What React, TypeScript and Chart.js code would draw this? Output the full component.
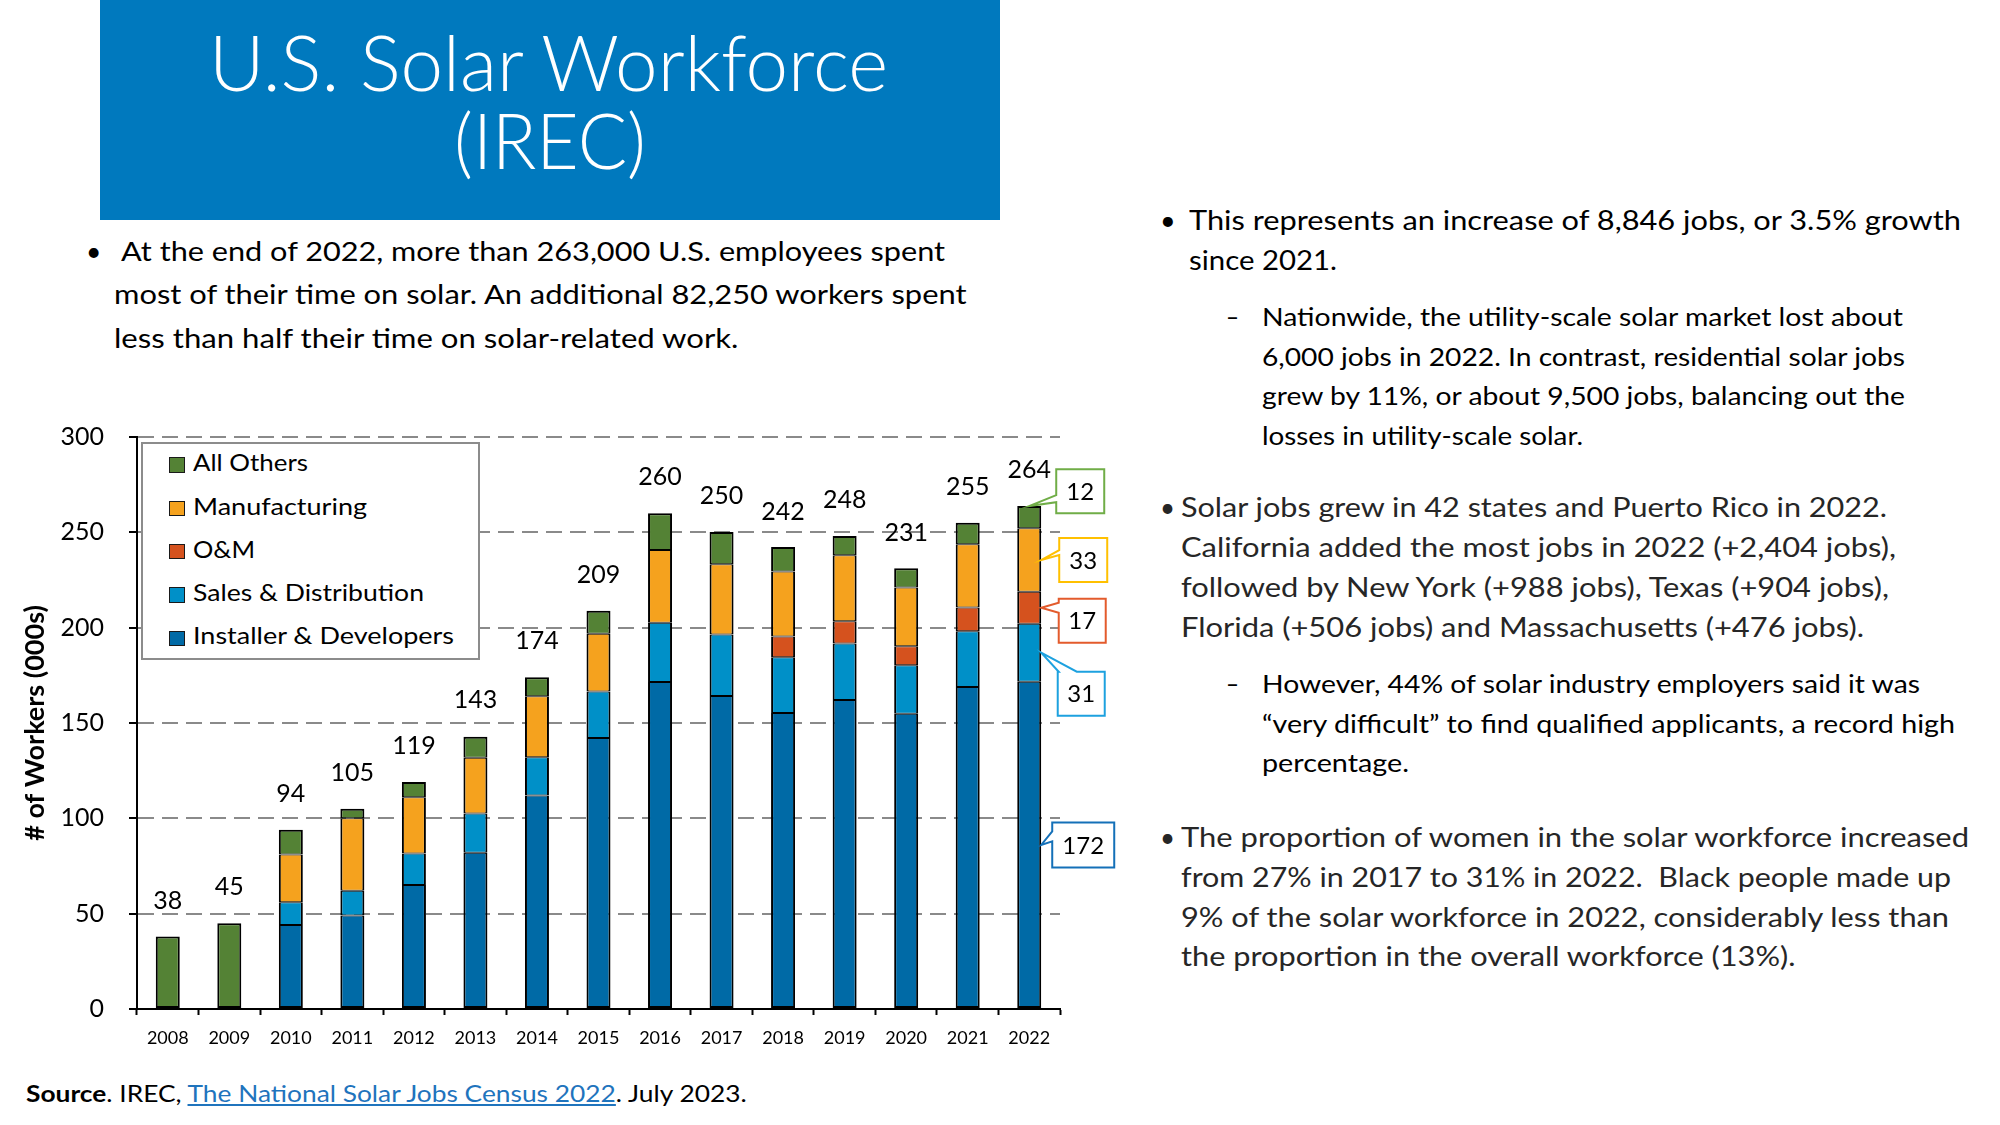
import React, { useEffect, useLayoutEffect, useRef } from "react";
import { Chart, registerables } from "chart.js";

Chart.register(...registerables);

// ---------------- data ----------------
const years = ["2008", "2009", "2010", "2011", "2012", "2013", "2014", "2015", "2016", "2017", "2018", "2019", "2020", "2021", "2022"];
const installerDevelopers = [null, null, 44, 49, 65, 82, 112, 142.1, 171.5, 164.1, 155.2, 162.1, 154.8, 168.9, 171.6];
const salesDistribution = [null, null, 12, 13, 16.5, 20.5, 20, 24.4, 31.1, 32.3, 29.3, 29.6, 25.5, 29.2, 30.5];
const operationsMaintenance = [null, null, null, null, null, null, null, null, null, null, 10.9, 11.6, 9.9, 12.5, 16.7];
const manufacturing = [null, null, 25, 38, 29.5, 29.3, 32, 30.3, 38.1, 36.9, 34.1, 34.7, 30.9, 33.1, 33.3];
const allOthers = [38, 45, 13, 5, 8, 11, 10, 12.1, 19.3, 16.9, 12.8, 10.1, 10.0, 11.3, 11.7];
const totals = [38, 45, 94, 105, 119, 143, 174, 209, 260, 250, 242, 248, 231, 255, 264];
const yTickValues = [0, 50, 100, 150, 200, 250, 300];
const seriesNames = ["Installer & Developers", "Sales & Distribution", "O&M", "Manufacturing", "All Others"];

// ---------------- styles ----------------
const seriesColors = ["#006AA6", "#0090C8", "#D5521E", "#F5A21E", "#548235"];
const seriesData = [installerDevelopers, salesDistribution, operationsMaintenance, manufacturing, allOthers];
const legendOrder = [4, 3, 2, 1, 0];
const legendWidths = [115, 174, 62, 231, 261];
const calloutStyles = [
  { color: "#1470B8", dx: 42, dy: 0, w: 62, h: 45, tip: "right", side: "left", a: 9, b: 19 },
  { color: "#1DA1DF", dx: 40, dy: 41, w: 47, h: 44, tip: "right", side: "top", a: 1, b: 19 },
  { color: "#E35B2C", dx: 41, dy: 13, w: 47, h: 44, tip: "right", side: "left", a: 4, b: 14 },
  { color: "#FFC000", dx: 42, dy: 0, w: 48, h: 44, tip: "right", side: "left", a: 12, b: 17 },
  { color: "#70AD47", dx: 39, dy: -26, w: 48, h: 44, tip: "top", side: "left", a: 26, b: 33 },
];

function edgeWidths(i: number, d: number) {
  const above = seriesData.slice(d + 1).some((s) => s[i] != null);
  const below = seriesData.slice(0, d).some((s) => s[i] != null);
  return { left: 2, right: 2, top: above ? 1 : 2, bottom: below ? 1 : 2 };
}

const totalsPlugin = {
  id: "totalsLabels",
  afterDatasetsDraw(chart: any) {
    const { ctx, scales } = chart;
    ctx.save();
    ctx.font = "25px Lato";
    ctx.fillStyle = "#000";
    ctx.textAlign = "center";
    ctx.textBaseline = "middle";
    totals.forEach((t, i) => {
      ctx.fillText(String(t), scales.x.getPixelForValue(i), scales.y.getPixelForValue(t) - 36);
    });
    ctx.restore();
  },
};

const calloutPlugin = {
  id: "callouts",
  afterDatasetsDraw(chart: any) {
    const ctx = chart.ctx;
    const last = years.length - 1;
    ctx.save();
    chart.data.datasets.forEach((ds: any, d: number) => {
      const v = ds.data[last];
      if (v == null) return;
      const bar = chart.getDatasetMeta(d).data[last];
      const { x, y, base, width } = bar.getProps(["x", "y", "base", "width"], true);
      const right = x + width / 2;
      const top = Math.min(y, base);
      const bottom = Math.max(y, base);
      const mid = (top + bottom) / 2;
      const s = calloutStyles[d];
      const cx = right + s.dx;
      const cy = mid + s.dy;
      const L = cx - s.w / 2, R = cx + s.w / 2, T = cy - s.h / 2, B = cy + s.h / 2;
      const tx = s.tip === "top" ? x : right;
      const ty = s.tip === "top" ? top : mid;
      ctx.beginPath();
      if (s.side === "left") {
        ctx.moveTo(L, T);
        ctx.lineTo(R, T);
        ctx.lineTo(R, B);
        ctx.lineTo(L, B);
        ctx.lineTo(L, T + s.b);
        ctx.lineTo(tx, ty);
        ctx.lineTo(L, T + s.a);
      } else {
        ctx.moveTo(L, T);
        ctx.lineTo(L + s.a, T);
        ctx.lineTo(tx, ty);
        ctx.lineTo(L + s.b, T);
        ctx.lineTo(R, T);
        ctx.lineTo(R, B);
        ctx.lineTo(L, B);
      }
      ctx.closePath();
      ctx.fillStyle = "#fff";
      ctx.fill();
      ctx.lineWidth = 2;
      ctx.lineJoin = "miter";
      ctx.strokeStyle = s.color;
      ctx.stroke();
      ctx.fillStyle = "#000";
      ctx.font = "24px Lato";
      ctx.textAlign = "center";
      ctx.textBaseline = "middle";
      ctx.fillText(String(Math.round(v)), cx, cy + 1);
    });
    ctx.restore();
  },
};

type LineProps = {
  x: number;
  base: number;
  fs: number;
  w?: number;
  color?: string;
  weight?: number;
  children: React.ReactNode;
};

function Line({ x, base, fs, w, color = "#000", weight = 400, children }: LineProps) {
  return (
    <div
      data-w={w}
      style={{
        position: "absolute",
        left: x,
        top: base - 0.887 * fs,
        fontSize: fs,
        lineHeight: `${fs}px`,
        fontWeight: weight,
        color,
        whiteSpace: "pre",
        transformOrigin: "0 0",
        fontFamily: "Lato",
      }}
    >
      {children}
    </div>
  );
}

function fitAll() {
  document.querySelectorAll<HTMLElement>("[data-w]").forEach((el) => {
    el.style.transform = "none";
    const w = el.getBoundingClientRect().width;
    const target = Number(el.getAttribute("data-w"));
    if (w > 0 && target > 0) el.style.transform = `scaleX(${(target / w).toFixed(4)})`;
  });
}

export default function App() {
  const canvasRef = useRef<HTMLCanvasElement>(null);

  useLayoutEffect(() => {
    fitAll();
    if ((document as any).fonts) (document as any).fonts.ready.then(fitAll);
  }, []);

  useEffect(() => {
    const chart = new Chart(canvasRef.current as HTMLCanvasElement, {
      type: "bar",
      data: {
        labels: years,
        datasets: seriesData.map((data, d) => ({
          label: seriesNames[d],
          data,
          backgroundColor: seriesColors[d],
          borderColor: "#000",
          borderWidth: (c: any) => edgeWidths(c.dataIndex, d),
          borderSkipped: false,
          inflateAmount: 0,
          barPercentage: 0.39,
          categoryPercentage: 1,
          stack: "s",
        })) as any,
      },
      options: {
        animation: false,
        responsive: false,
        layout: { padding: { left: 0, top: 27, right: 70, bottom: 0 } },
        plugins: { legend: { display: false }, tooltip: { enabled: false }, title: { display: false } },
        scales: {
          x: {
            stacked: true,
            grid: { display: true, drawOnChartArea: false, drawTicks: true, tickLength: 6, tickColor: "#000", tickWidth: 2, offset: true },
            border: { display: true, color: "#000", width: 2 },
            ticks: { color: "#000", font: { family: "Lato", size: 18 }, padding: 12, maxRotation: 0, autoSkip: false },
            afterFit: (s: any) => {
              s.height = 51;
              s.paddingLeft = 0;
              s.paddingRight = 0;
            },
          },
          y: {
            stacked: true,
            min: 0,
            max: 300,
            afterBuildTicks: (s: any) => {
              s.ticks = yTickValues.map((v) => ({ value: v }));
            },
            grid: {
              color: (c: any) => (c.tick && c.tick.value === 0 ? "rgba(0,0,0,0)" : "#8a8a8a"),
              lineWidth: 2,
              drawTicks: true,
              tickLength: 8,
              tickColor: "#000",
              tickWidth: 2,
              tickBorderDash: [],
            },
            border: { display: true, color: "#000", width: 2, dash: [16, 8] },
            ticks: { color: "#000", font: { family: "Lato", size: 25 }, padding: 25 },
            title: {
              display: true,
              text: "# of Workers (000s)",
              color: "#000",
              font: { family: "Lato", size: 27, weight: "bold" },
              padding: { top: 19, bottom: 0 },
            },
            afterFit: (s: any) => {
              s.width = 137;
              s.paddingTop = 0;
              s.paddingBottom = 0;
            },
          },
        },
      } as any,
      plugins: [totalsPlugin, calloutPlugin],
    });
    return () => chart.destroy();
  }, []);

  const dark = "#262626";

  return (
    <div
      style={{
        position: "absolute",
        left: 0,
        top: 0,
        width: 2000,
        height: 1125,
        background: "#fff",
        overflow: "hidden",
        fontFamily: "Lato",
      }}
    >
      <div style={{ position: "absolute", left: 100, top: 0, width: 900, height: 219.5, background: "#0079BE" }} />
      <Line x={209} base={91} fs={76} w={679} color="#fff" weight={300}>U.S. Solar Workforce</Line>
      <Line x={453.5} base={169.5} fs={76} w={192} color="#fff" weight={300}>(IREC)</Line>

      <Line x={86} base={261.7} fs={26.5}>•</Line>
      <Line x={121} base={261.7} fs={26.5} w={824}>At the end of 2022, more than 263,000 U.S. employees spent</Line>
      <Line x={113.5} base={305} fs={26.5} w={852.5}>most of their time on solar. An additional 82,250 workers spent</Line>
      <Line x={113.5} base={348.3} fs={26.5} w={624.5}>less than half their time on solar-related work.</Line>

      <Line x={1160} base={230} fs={27}>•</Line>
      <Line x={1189.4} base={230} fs={27} w={772}>This represents an increase of 8,846 jobs, or 3.5% growth</Line>
      <Line x={1189.4} base={269.5} fs={27} w={148}>since 2021.</Line>

      <Line x={1226} base={326.5} fs={25} w={13}>–</Line>
      <Line x={1261.8} base={326.5} fs={25} w={641}>Nationwide, the utility-scale solar market lost about</Line>
      <Line x={1261.8} base={366} fs={25} w={643}>6,000 jobs in 2022. In contrast, residential solar jobs</Line>
      <Line x={1261.8} base={405.5} fs={25} w={643}>grew by 11%, or about 9,500 jobs, balancing out the</Line>
      <Line x={1261.8} base={445.5} fs={25} w={321}>losses in utility-scale solar.</Line>

      <Line x={1160} base={516.7} fs={26} color={dark}>•</Line>
      <Line x={1181} base={516.7} fs={26} w={706} color={dark}>Solar jobs grew in 42 states and Puerto Rico in 2022.</Line>
      <Line x={1181} base={556.7} fs={26} w={715} color={dark}>California added the most jobs in 2022 (+2,404 jobs),</Line>
      <Line x={1181} base={596.7} fs={26} w={708} color={dark}>followed by New York (+988 jobs), Texas (+904 jobs),</Line>
      <Line x={1181} base={636.7} fs={26} w={683} color={dark}>Florida (+506 jobs) and Massachusetts (+476 jobs).</Line>

      <Line x={1226} base={693.5} fs={25} w={13}>–</Line>
      <Line x={1261.8} base={693.5} fs={25} w={658}>However, 44% of solar industry employers said it was</Line>
      <Line x={1261.8} base={733} fs={25} w={693}>“very difficult” to find qualified applicants, a record high</Line>
      <Line x={1261.8} base={772.5} fs={25} w={147}>percentage.</Line>

      <Line x={1160} base={846.7} fs={26} color={dark}>•</Line>
      <Line x={1181} base={846.7} fs={26} w={788} color={dark}>The proportion of women in the solar workforce increased</Line>
      <Line x={1181} base={887} fs={26} w={770} color={dark}>from 27% in 2017 to 31% in 2022.  Black people made up</Line>
      <Line x={1181} base={926.7} fs={26} w={768} color={dark}>9% of the solar workforce in 2022, considerably less than</Line>
      <Line x={1181} base={966.5} fs={26} w={614.5} color={dark}>the proportion in the overall workforce (13%).</Line>

      <Line x={25.5} base={1102} fs={23} w={720.7}>
        <b>Source</b>. IREC,{" "}
        <span style={{ color: "#1F74BD", textDecoration: "underline" }}>The National Solar Jobs Census 2022</span>. July 2023.
      </Line>

      <canvas ref={canvasRef} width={1130} height={650} style={{ position: "absolute", left: 0, top: 410 }} />

      <div
        style={{
          position: "absolute",
          left: 141,
          top: 442,
          width: 339,
          height: 218,
          boxSizing: "border-box",
          border: "2px solid #8c8c8c",
          background: "#fff",
        }}
      >
        {legendOrder.map((d, k) => (
          <React.Fragment key={seriesNames[d]}>
            <div
              style={{
                position: "absolute",
                left: 26,
                top: 13.3 + k * 43.3,
                width: 15.5,
                height: 15.5,
                boxSizing: "border-box",
                border: "1.5px solid #1a1a1a",
                background: seriesColors[d],
              }}
            />
            <Line x={50} base={27.7 + k * 43.3} fs={23} w={legendWidths[k]}>
              {seriesNames[d]}
            </Line>
          </React.Fragment>
        ))}
      </div>
    </div>
  );
}
